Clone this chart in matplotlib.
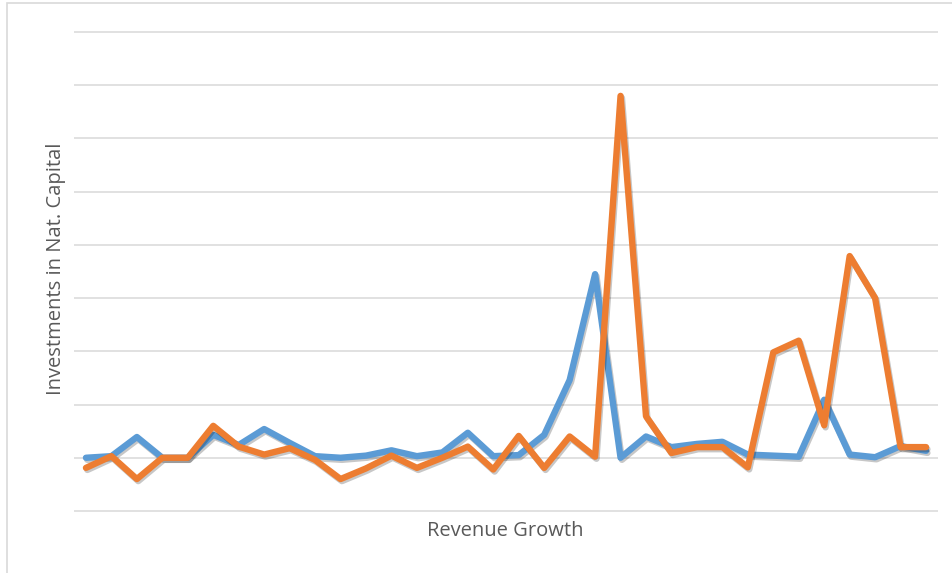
import numpy as np
import matplotlib.pyplot as plt
import matplotlib.patheffects as pe
from matplotlib.patches import Rectangle

# Yearly observations, in grid units
revenue_growth = [0.0, 0.03, 0.39, 0.0, 0.0, 0.43, 0.24, 0.54, 0.28, 0.03,
                  0.0, 0.04, 0.14, 0.03, 0.10, 0.47, 0.03, 0.05, 0.43, 1.46,
                  3.45, 0.0, 0.40, 0.20, 0.26, 0.30, 0.06, 0.04, 0.02, 1.09,
                  0.06, 0.01, 0.22, 0.13]
nat_capital = [-0.19, 0.03, -0.40, 0.0, 0.0, 0.60, 0.21, 0.06, 0.18, -0.04,
               -0.40, -0.20, 0.04, -0.19, 0.0, 0.21, -0.22, 0.41, -0.19, 0.40,
               0.02, 6.80, 0.78, 0.09, 0.20, 0.20, -0.18, 1.98, 2.20, 0.61,
               3.79, 3.00, 0.20, 0.20]
grid_levels = list(range(-1, 9))

BLUE = '#5B9BD5'
ORANGE = '#ED7D31'
GRID = '#D9D9D9'
TEXT = '#595959'

W, H = 952, 573
fig = plt.figure(figsize=(W/100, H/100), dpi=100)
fig.patch.set_facecolor('white')

# outer chart border
fig.patches.append(Rectangle((7/W, -0.05), 1.0, 1.05 - 3/H, transform=fig.transFigure,
                             fill=False, edgecolor=GRID, linewidth=1.2))

# plot area in pixels: x 74..938, y -1.1 -> 516, 8.1 -> 27
ax = fig.add_axes([74/W, (H - 516.3)/H, (938 - 74)/W, (516.3 - 26.7)/H])
ax.set_ylim(-1.1, 8.1)
ax.set_xlim(-0.47, len(revenue_growth) - 1 + 0.47)

for g in grid_levels:
    ax.axhline(g, color=GRID, linewidth=1.1, zorder=0)

x = np.arange(len(revenue_growth))
shadow = [pe.SimpleLineShadow(offset=(1.0, -1.5), shadow_color='k', alpha=0.22), pe.Normal()]
for vals, col, z in [(revenue_growth, BLUE, 2), (nat_capital, ORANGE, 3)]:
    ax.plot(x, vals, color=col, linewidth=4.6, solid_joinstyle='round',
            solid_capstyle='round', zorder=z, path_effects=shadow)

for s in ax.spines.values():
    s.set_visible(False)
ax.set_xticks([])
ax.set_yticks([])

fig.text(56/W, 1 - 269/H, 'Investments in Nat. Capital', rotation=90,
         ha='center', va='center', fontsize=14.5, color=TEXT, family='Open Sans')
fig.text(505/W, 1 - 531/H, 'Revenue Growth', ha='center', va='center',
         fontsize=14.5, color=TEXT, family='Open Sans')

fig.savefig('out.png', dpi=100)
